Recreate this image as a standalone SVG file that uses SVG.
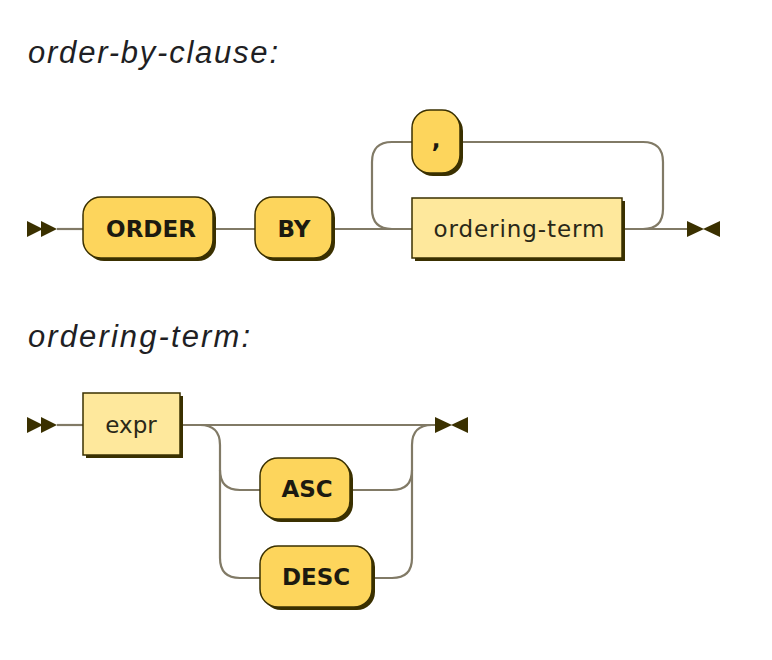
<svg xmlns="http://www.w3.org/2000/svg" width="772" height="660" viewBox="0 0 772 660">
<style>
.title{font-family:"Liberation Sans",Arial,sans-serif;font-style:italic;font-size:31px;fill:#1f1f24}
.ln{fill:none;stroke:#817a66;stroke-width:2.2}
.shadow{fill:#3a3000}
.term{fill:#fdd55c;stroke:#3a3000;stroke-width:1.5}
.nt{fill:#fee89c;stroke:#3a3000;stroke-width:1.5}
.kw{font-family:"DejaVu Sans",sans-serif;font-weight:bold;font-size:23px;fill:#1c1a10;text-anchor:middle}
.id{font-family:"DejaVu Sans",sans-serif;font-size:23px;fill:#2a2818;text-anchor:middle}
.arrow{fill:#3a3000}
</style>
<rect width="772" height="660" fill="#ffffff"/>
<text class="title" x="28" y="63" textLength="250" lengthAdjust="spacing">order-by-clause:</text>
<text class="title" x="28" y="347" textLength="222" lengthAdjust="spacing">ordering-term:</text>

<g id="connectors">
  <path class="ln" d="M57 229 L83 229"/>
  <path class="ln" d="M213 229 L255 229"/>
  <path class="ln" d="M332 229 L412 229"/>
  <path class="ln" d="M392 229 Q372 229 372 209 L372 162 Q372 142 392 142 L412 142"/>
  <path class="ln" d="M460 142 L643 142 Q663 142 663 162 L663 209 Q663 229 643 229"/>
  <path class="ln" d="M622 229 L687 229"/>
  <path class="ln" d="M57 425 L83 425"/>
  <path class="ln" d="M180 425 L435 425"/>
  <path class="ln" d="M200 425 Q220 425 220 445 L220 558 Q220 578 240 578 L260 578"/>
  <path class="ln" d="M220 470 Q220 490 240 490 L260 490"/>
  <path class="ln" d="M352 490 L392 490 Q412 490 412 470"/>
  <path class="ln" d="M374 578 L392 578 Q412 578 412 558 L412 445 Q412 425 432 425"/>
</g>

<g id="start1">
  <polygon class="arrow" points="27,221 43,229 27,237"/>
  <polygon class="arrow" points="41,221 57,229 41,237"/>
</g>
<g id="end1">
  <polygon class="arrow" points="687,221 704,229 687,237"/>
  <polygon class="arrow" points="720,221 703,229 720,237"/>
</g>
<g id="start2">
  <polygon class="arrow" points="27,417 43,425 27,433"/>
  <polygon class="arrow" points="41,417 57,425 41,433"/>
</g>
<g id="end2">
  <polygon class="arrow" points="435,417 452,425 435,433"/>
  <polygon class="arrow" points="468,417 451,425 468,433"/>
</g>

<g id="ORDER">
  <rect class="shadow" x="86" y="200" width="130" height="61" rx="18"/>
  <rect class="term" x="83" y="197" width="130" height="61" rx="18"/>
  <text class="kw" x="151" y="237">ORDER</text>
</g>
<g id="BY">
  <rect class="shadow" x="258" y="200" width="77" height="61" rx="18"/>
  <rect class="term" x="255" y="197" width="77" height="61" rx="18"/>
  <text class="kw" x="294" y="237">BY</text>
</g>
<g id="comma">
  <rect class="shadow" x="415" y="113" width="48" height="63" rx="18"/>
  <rect class="term" x="412" y="110" width="48" height="63" rx="18"/>
  <text class="kw" x="436" y="148">,</text>
</g>
<g id="ordering-term">
  <rect class="shadow" x="415" y="201" width="210" height="60"/>
  <rect class="nt" x="412" y="198" width="210" height="60"/>
  <text class="id" x="519" y="237" textLength="171" lengthAdjust="spacing">ordering-term</text>
</g>

<g id="expr">
  <rect class="shadow" x="86" y="396" width="97" height="62"/>
  <rect class="nt" x="83" y="393" width="97" height="62"/>
  <text class="id" x="131" y="433">expr</text>
</g>
<g id="ASC">
  <rect class="shadow" x="263" y="461" width="90" height="61" rx="18"/>
  <rect class="term" x="260" y="458" width="90" height="61" rx="18"/>
  <text class="kw" x="307" y="497">ASC</text>
</g>
<g id="DESC">
  <rect class="shadow" x="263" y="549" width="112" height="61" rx="18"/>
  <rect class="term" x="260" y="546" width="112" height="61" rx="18"/>
  <text class="kw" x="316" y="585">DESC</text>
</g>
</svg>
